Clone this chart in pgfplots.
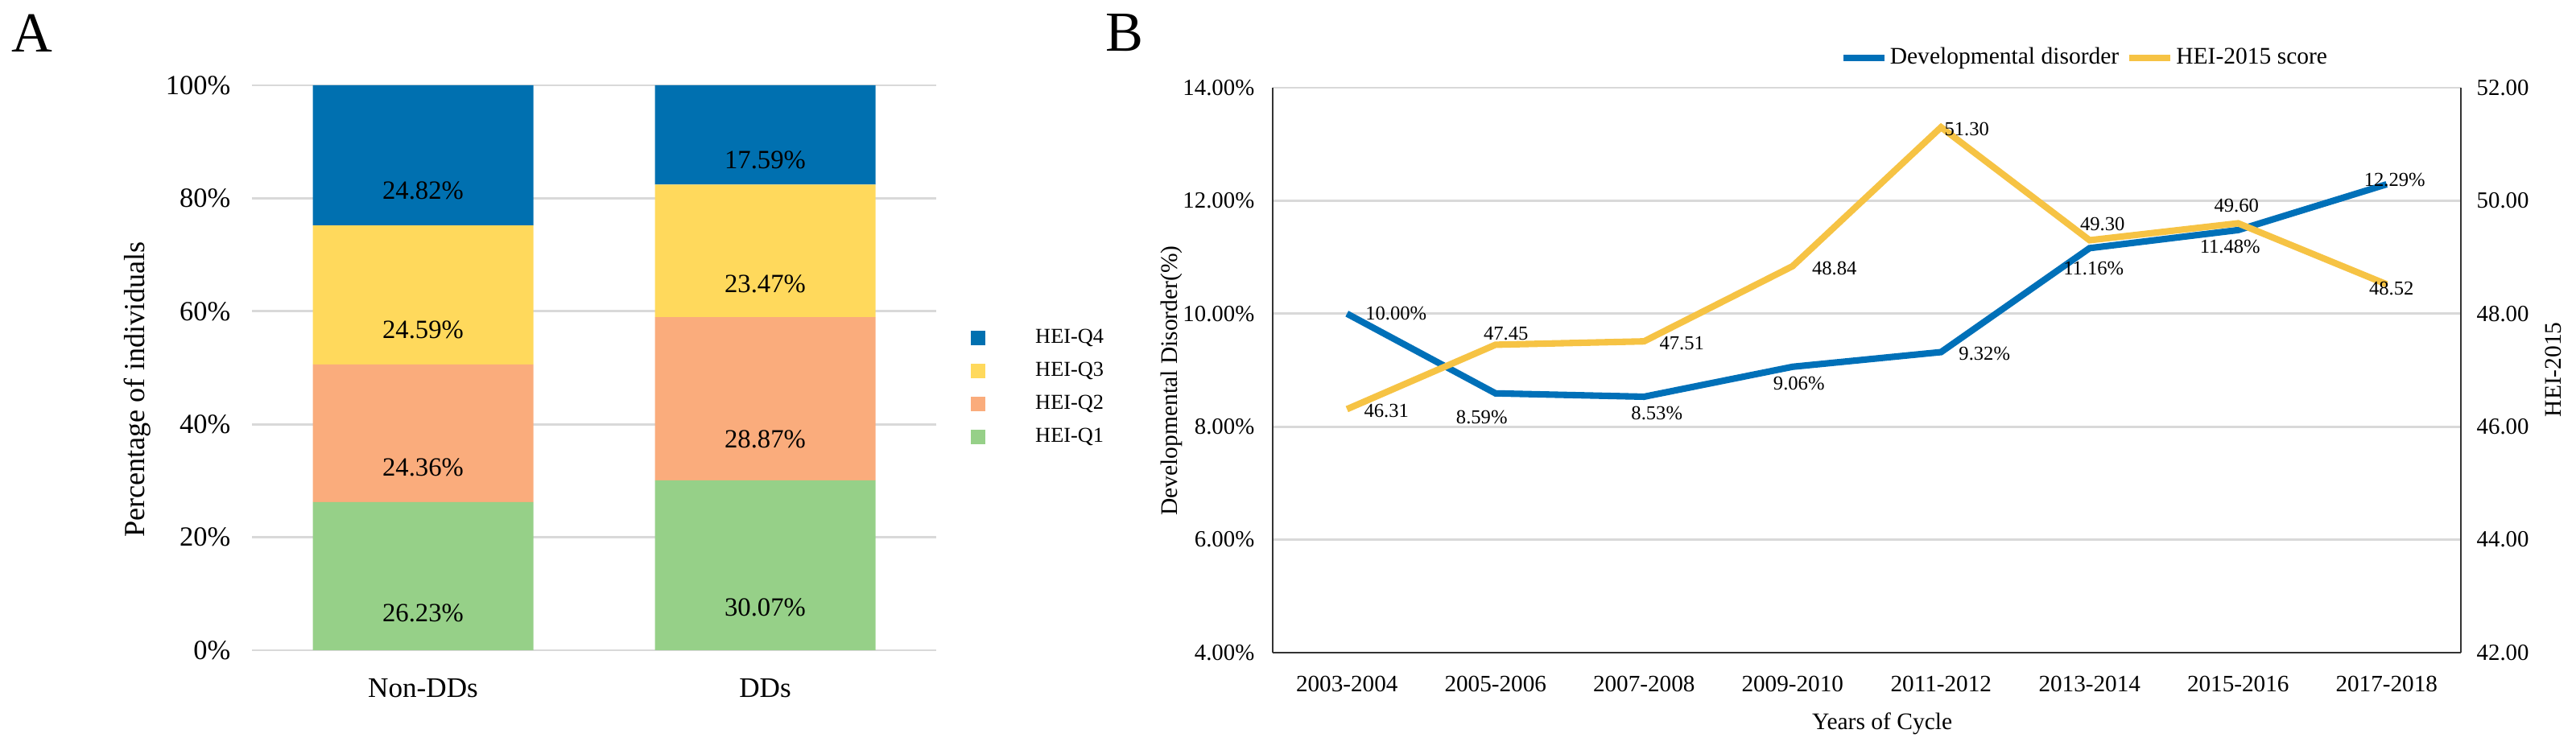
\documentclass[border=0pt]{standalone}
\usepackage{fontspec}
\setmainfont{Liberation Serif}
\usepackage{pgfplots}
\usepackage{pgfplotstable}
\pgfplotsset{compat=1.18}

\definecolor{qfour}{HTML}{0070B0}
\definecolor{qthree}{HTML}{FFD95C}
\definecolor{qtwo}{HTML}{FAAC7C}
\definecolor{qone}{HTML}{96D088}
\definecolor{ddline}{HTML}{0070B8}
\definecolor{heiline}{HTML}{F6C344}
\definecolor{gridgray}{HTML}{D9D9D9}

% panel A: share of each HEI quartile
\pgfplotstableread{
cat q1 q2 q3 q4
0 26.23 24.36 24.59 24.82
1 30.07 28.87 23.47 17.59
}\barsA

% panel B: label offsets dx, dy in 0.01cm
\pgfplotstableread{
x dd dx dy
0 10.00 61 0
1 8.59 -17 -30
2 8.53 16 -21
3 9.06 8 -21
4 9.32 54 -2
5 11.16 5 -25
6 11.48 -10 -21
7 12.29 10 6
}\ddtab

\pgfplotstableread{
x hei dx dy
0 46.31 49 -2
1 47.45 13 14
2 47.51 47 -2
3 48.84 52 -3
4 51.30 32 -2
5 49.30 16 20
6 49.60 -2 22
7 48.52 6 -5
}\heitab

\newcommand{\segplot}[2]{%
  \addplot[fill=#2, draw=none, forget plot,
    point meta=explicit symbolic,
    visualization depends on={\thisrow{#1}\as\segv},
    nodes near coords={\pgfplotspointmeta\%},
    every node near coord/.append style={anchor=center, inner sep=0pt,
      font=\fontsize{9.3}{11}\selectfont, text=black,
      yshift={-\segv*0.01755cm}}]
    table[x=cat, y=#1, meta=#1] {\barsA};}

\begin{document}
\begin{tikzpicture}
\path[use as bounding box] (0,0) rectangle (32cm,9.27cm);
\node[font=\fontsize{20}{24}\selectfont] at (0.40cm,8.86cm) {A};
\node[font=\fontsize{20}{24}\selectfont] at (13.97cm,8.86cm) {B};

\begin{axis}[
    at={(3.13cm,1.19cm)}, anchor=south west,
    scale only axis, width=8.50cm, height=7.02cm,
    ybar stacked, bar width=2.74cm,
    xmin=-0.5, xmax=1.5, ymin=0, ymax=100,
    xtick={0,1}, xticklabels={Non-DDs, DDs},
    ytick={0,20,...,100},
    yticklabels={0\%,20\%,40\%,60\%,80\%,100\%},
    ymajorgrids, grid style={gridgray, line width=0.8pt},
    axis line style={draw=none}, major tick length=0pt,
    yticklabel style={font=\fontsize{9.8}{11}\selectfont, anchor=east,
      inner sep=0pt, xshift=-0.26cm},
    xticklabel style={font=\fontsize{10}{12}\selectfont, anchor=center,
      inner sep=0pt, yshift=-0.47cm},
    ylabel={Percentage of individuals},
    every axis y label/.style={at={(axis description cs:-0.168,0.4615)},
      rotate=90, anchor=center, font=\fontsize{10.3}{12}\selectfont},
]
\segplot{q1}{qone}
\segplot{q2}{qtwo}
\segplot{q3}{qthree}
\segplot{q4}{qfour}
\end{axis}

% legend of panel A, in an empty axis over the same box
\begin{axis}[
    at={(3.13cm,1.19cm)}, anchor=south west,
    scale only axis, width=8.50cm, height=7.02cm,
    xmin=0, xmax=1, ymin=0, ymax=1, hide axis,
    legend style={at={(axis description cs:1.05,0.465)}, anchor=west,
      draw=none, fill=none, inner sep=0pt,
      font=\fontsize{7.5}{9}\selectfont, nodes={inner sep=0pt}},
    legend image code/.code={
      \fill[#1] (0cm,-0.09cm) rectangle (0.18cm,0.09cm);
      \path[draw=none, fill=none] (0cm,-0.205cm) rectangle (0.80cm,0.205cm);},
]
\addlegendimage{fill=qfour, draw=none}
\addlegendimage{fill=qthree, draw=none}
\addlegendimage{fill=qtwo, draw=none}
\addlegendimage{fill=qone, draw=none}
\legend{HEI-Q4, HEI-Q3, HEI-Q2, HEI-Q1}
\end{axis}

\begin{axis}[
    at={(15.81cm,1.16cm)}, anchor=south west,
    scale only axis, width=14.76cm, height=7.02cm,
    xmin=-0.5, xmax=7.5, ymin=4, ymax=14,
    axis x line*=bottom, axis y line*=left,
    axis line style={-, line width=0.8pt, black!80},
    xtick={0,...,7},
    xticklabels={2003-2004,2005-2006,2007-2008,2009-2010,2011-2012,2013-2014,2015-2016,2017-2018},
    ytick={4,6,...,14},
    yticklabels={4.00\%,6.00\%,8.00\%,10.00\%,12.00\%,14.00\%},
    ymajorgrids, grid style={gridgray, line width=0.8pt},
    major tick length=0pt,
    yticklabel style={font=\fontsize{8.2}{10}\selectfont, anchor=east,
      inner sep=0pt, xshift=-0.22cm},
    xticklabel style={font=\fontsize{8.3}{10}\selectfont, anchor=center,
      inner sep=0pt, yshift=-0.39cm},
    xlabel={Years of Cycle},
    every axis x label/.style={at={(axis description cs:0.513,-0.1254)},
      anchor=center, font=\fontsize{8.4}{10}\selectfont},
    ylabel={Developmental Disorder(\%)},
    every axis y label/.style={at={(axis description cs:-0.0854,0.4815)},
      rotate=90, anchor=center, font=\fontsize{8.4}{10}\selectfont},
]
\addplot[ddline, line width=2.3pt,
    point meta=explicit symbolic,
    visualization depends on={\thisrow{dx}\as\ldx},
    visualization depends on={\thisrow{dy}\as\ldy},
    nodes near coords={\pgfplotspointmeta\%},
    every node near coord/.append style={anchor=center, inner sep=0pt,
      font=\fontsize{7}{8}\selectfont, text=black,
      xshift={\ldx*0.01cm}, yshift={\ldy*0.01cm}}]
  table[x=x, y=dd, meta=dd] {\ddtab};
\end{axis}

\begin{axis}[
    at={(15.81cm,1.16cm)}, anchor=south west,
    scale only axis, width=14.76cm, height=7.02cm,
    xmin=-0.5, xmax=7.5, ymin=42, ymax=52,
    axis x line=none, axis y line*=right,
    axis line style={-, line width=0.8pt, black!80},
    xtick=\empty,
    ytick={42,44,...,52},
    yticklabels={42.00,44.00,46.00,48.00,50.00,52.00},
    major tick length=0pt,
    yticklabel style={font=\fontsize{8.2}{10}\selectfont, anchor=west,
      inner sep=0pt, xshift=0.19cm},
    ylabel={HEI-2015},
    every axis y label/.style={at={(axis description cs:1.078,0.501)},
      rotate=90, anchor=center, font=\fontsize{8.4}{10}\selectfont},
    legend style={at={(axis description cs:0.477,1.0527)}, anchor=west,
      draw=none, fill=none, inner sep=0pt,
      font=\fontsize{8.4}{10}\selectfont, nodes={inner sep=0pt},
      legend columns=-1,
      /tikz/every even column/.append style={column sep=0.09cm}},
    legend image code/.code={
      \draw[#1] (0cm,0cm) -- (0.51cm,0cm);
      \path[draw=none, fill=none] (0cm,-0.1cm) rectangle (0.58cm,0.1cm);},
]
\addlegendimage{ddline, line width=2.3pt}
\addplot[heiline, line width=2.3pt,
    point meta=explicit symbolic,
    visualization depends on={\thisrow{dx}\as\ldx},
    visualization depends on={\thisrow{dy}\as\ldy},
    nodes near coords={\pgfplotspointmeta},
    every node near coord/.append style={anchor=center, inner sep=0pt,
      font=\fontsize{7}{8}\selectfont, text=black,
      xshift={\ldx*0.01cm}, yshift={\ldy*0.01cm}}]
  table[x=x, y=hei, meta=hei] {\heitab};
\legend{Developmental disorder, HEI-2015 score}
\end{axis}
\end{tikzpicture}
\end{document}
